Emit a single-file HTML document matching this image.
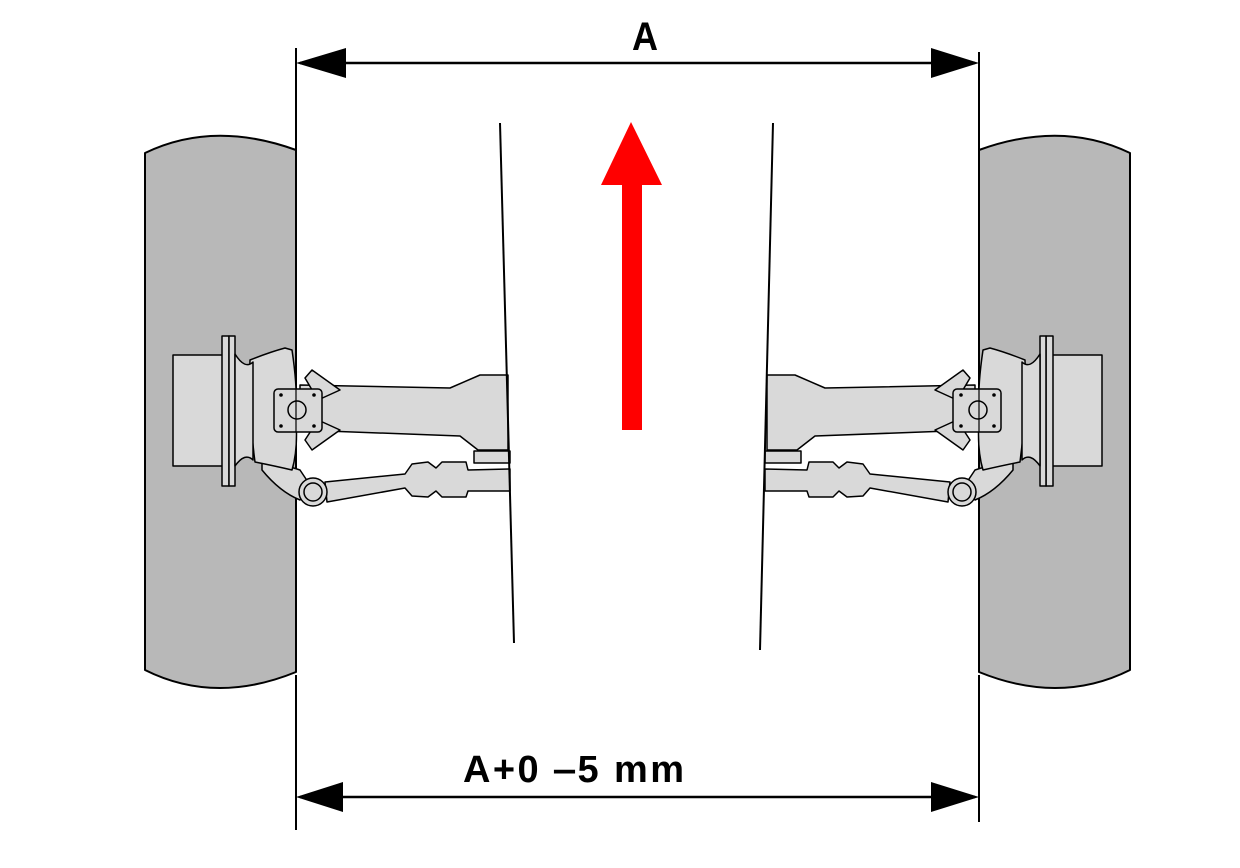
<!DOCTYPE html>
<html><head><meta charset="utf-8"><style>
html,body{margin:0;padding:0;background:#fff;}
svg{display:block;}
text{font-family:"Liberation Sans",Arial,sans-serif;font-weight:bold;fill:#000;}
</style></head><body>
<svg width="1240" height="868" viewBox="0 0 1240 868" xmlns="http://www.w3.org/2000/svg">
<defs>
<g id="side" stroke="#000" stroke-width="2" stroke-linejoin="round">
  <path d="M145,153 Q213,120 296,150 L296,672 Q215,705 145,670 Z" fill="#b8b8b8"/>
  <path d="M325,482 L405,474 L412,464 L428,462 L436,468 L442,462 L466,462 L468,470 L510,469 L510,491 L468,491 L466,497 L442,497 L436,491 L428,497 L412,496 L405,488 L327,502 Z" fill="#d9d9d9" stroke-width="1.5"/>
  <path d="M474,451 L510,451 L510,463 L474,463 Z" fill="#d9d9d9" stroke-width="1.5"/>
  <path d="M262,460 Q285,465 300,470 L310,485 L300,500 Q280,492 262,470 Z" fill="#d9d9d9" stroke-width="1.5"/>
  <circle cx="313" cy="492" r="14" fill="#d9d9d9" stroke-width="1.5"/>
  <circle cx="313" cy="492" r="9" fill="#d9d9d9" stroke-width="1.5"/>
  <path d="M300,385 L450,388 L480,375 L508,375 L508,450 L478,450 L460,436 L300,430 Z" fill="#d9d9d9" stroke-width="1.5"/>
  <path d="M305,378 L312,370 L340,390 L318,400 Z M305,440 L312,450 L340,430 L318,420 Z" fill="#d9d9d9" stroke-width="1.5"/>
  <path d="M250,360 Q270,352 285,348 L292,350 Q298,390 296,420 Q298,450 292,470 Q275,466 255,462 Q248,410 250,360 Z" fill="#d9d9d9" stroke-width="1.5"/>
  <rect x="173" y="355" width="50" height="111" fill="#d9d9d9" stroke-width="1.5"/>
  <rect x="222" y="336" width="7" height="150" fill="#d9d9d9" stroke-width="1.5"/>
  <rect x="229" y="336" width="6" height="150" fill="#d9d9d9" stroke-width="1.5"/>
  <path d="M235,354 Q245,370 253,362 L253,460 Q245,452 235,466 Z" fill="#d9d9d9" stroke-width="1.5"/>
  <rect x="274" y="389" width="48" height="43" rx="4" fill="#d9d9d9" stroke-width="1.5"/>
  <circle cx="297" cy="410" r="9" fill="#d9d9d9" stroke-width="1.5"/>
  <circle cx="281" cy="395" r="1.8" fill="#000" stroke="none"/>
  <circle cx="314" cy="395" r="1.8" fill="#000" stroke="none"/>
  <circle cx="281" cy="426" r="1.8" fill="#000" stroke="none"/>
  <circle cx="314" cy="426" r="1.8" fill="#000" stroke="none"/>
  <line x1="296" y1="389" x2="296" y2="432" stroke-width="1.2"/>
</g>
</defs>
<use href="#side"/>
<use href="#side" transform="translate(1275,0) scale(-1,1)"/>
<line x1="500" y1="123" x2="514" y2="643" stroke="#000" stroke-width="2"/>
<line x1="773" y1="123" x2="760" y2="650" stroke="#000" stroke-width="2"/>
<line x1="296" y1="48" x2="296" y2="150" stroke="#000" stroke-width="2"/>
<line x1="296" y1="675" x2="296" y2="830" stroke="#000" stroke-width="2"/>
<line x1="979" y1="52" x2="979" y2="150" stroke="#000" stroke-width="2"/>
<line x1="979" y1="675" x2="979" y2="822" stroke="#000" stroke-width="2"/>
<line x1="300" y1="63" x2="975" y2="63" stroke="#000" stroke-width="2.5"/>
<polygon points="296,63 346,48 346,78" fill="#000"/>
<polygon points="979,63 931,48 931,78" fill="#000"/>
<text x="645" y="50" font-size="40" text-anchor="middle" transform="translate(645,50) scale(0.9,1) translate(-645,-50)">A</text>
<line x1="300" y1="797" x2="975" y2="797" stroke="#000" stroke-width="2.5"/>
<polygon points="296,797 343,782 343,812" fill="#000"/>
<polygon points="979,797 931,782 931,812" fill="#000"/>
<text x="463" y="782" font-size="38" textLength="221" lengthAdjust="spacing">A+0 ‒5 mm</text>
<polygon points="631,122 662,185 642,185 642,430 622,430 622,185 601,185" fill="#ff0000"/>
</svg>
</body></html>
